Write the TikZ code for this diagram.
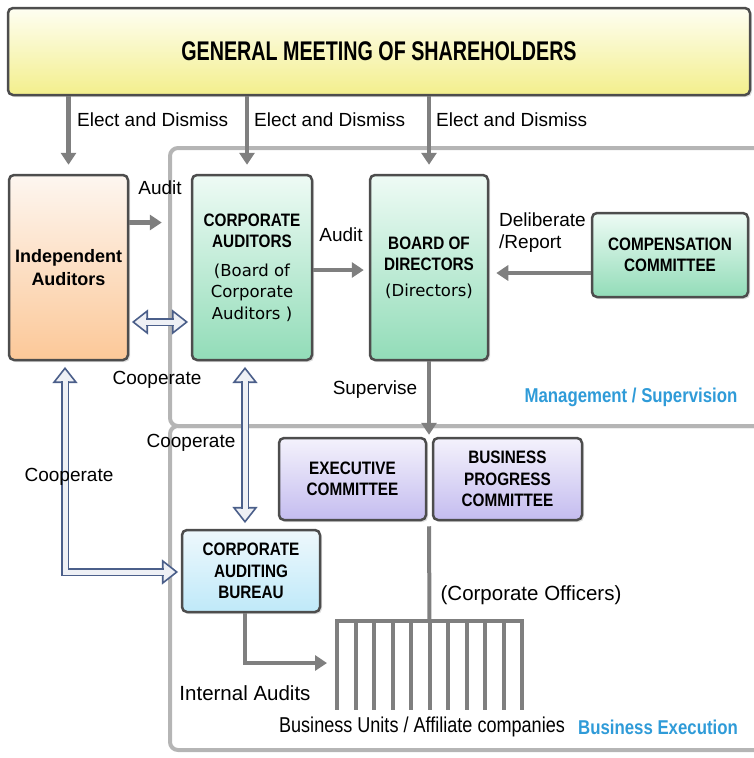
\documentclass[tikz,border=0pt]{standalone}
\usepackage{fontspec}
\setmainfont{Liberation Sans}
\newfontfamily\bxfont[FakeStretch=0.85]{Liberation Sans}
\newfontfamily\ttlfont[FakeStretch=0.73]{Liberation Sans}
\newfontfamily\narrowfont[FakeStretch=0.84]{Liberation Sans}
\newfontfamily\pfont{DejaVu Sans}
\usetikzlibrary{arrows.meta,shadows}

\definecolor{boxline}{HTML}{4D4D4D}
\definecolor{framegray}{HTML}{B5B5B5}
\definecolor{arrowgray}{HTML}{7F7F7F}
\definecolor{coopline}{HTML}{4B5F8A}
\definecolor{coopfill}{HTML}{EEF0F5}
\definecolor{gmstop}{HTML}{FEFEF2}
\definecolor{gmsbot}{HTML}{F3EF8C}
\definecolor{orgtop}{HTML}{FDF6F0}
\definecolor{orgbot}{HTML}{FCC898}
\definecolor{grntop}{HTML}{EEFBF5}
\definecolor{grnbot}{HTML}{92DCB8}
\definecolor{purtop}{HTML}{F4F2FC}
\definecolor{purbot}{HTML}{C4BCEF}
\definecolor{blutop}{HTML}{EEF8FC}
\definecolor{blubot}{HTML}{BFE9F9}
\definecolor{sectblue}{HTML}{2F9BD8}

\newcommand\bxtext{\bxfont\bfseries\fontsize{18}{21.5}\selectfont}
\newcommand\lbltext{\fontsize{19}{22}\selectfont}
\newcommand\pf{\pfont\mdseries\fontsize{16.5}{21.5}\selectfont}

\begin{document}
\begin{tikzpicture}[x=1pt,y=-1pt,
    box/.style={draw=boxline, line width=2.5pt, rounded corners=5pt,
        align=center, inner sep=0pt, font=\bxtext,
        drop shadow={shadow xshift=2pt, shadow yshift=-2pt, opacity=0.25}},
    orgbox/.style={box, top color=orgtop, bottom color=orgbot},
    grnbox/.style={box, top color=grntop, bottom color=grnbot},
    purbox/.style={box, top color=purtop, bottom color=purbot},
    blubox/.style={box, top color=blutop, bottom color=blubot},
    frame/.style={draw=framegray, line width=4pt, rounded corners=8pt},
    flow/.style={draw=arrowgray, line width=4.5pt,
        -{Triangle[length=12pt,width=15pt]}},
    comb/.style={draw=arrowgray, line width=4pt},
    coopshaft/.style={draw=coopline, line width=1.8pt, double=coopfill,
        double distance=5pt},
    coophead/.style={draw=coopline, fill=coopfill, line width=1.6pt,
        line join=miter},
    lbl/.style={font=\lbltext, inner sep=0pt},
    sect/.style={font=\narrowfont\bfseries\fontsize{20}{22}\selectfont,
        text=sectblue, inner sep=0pt}]
\useasboundingbox (0,0) rectangle (753,758);

% frames
\draw[frame] (170,148) rectangle (785,426);
\draw[frame] (170,426) rectangle (785,750);

% boxes
\node[box, top color=gmstop, bottom color=gmsbot, minimum width=742pt,
    minimum height=87pt, font=\ttlfont\bfseries\fontsize{27}{30}\selectfont]
    (gms) at (379,51.5) {GENERAL MEETING OF SHAREHOLDERS};
\node[orgbox, minimum width=119pt, minimum height=185pt,
    font=\bfseries\fontsize{18}{22.5}\selectfont] (indep) at (68.5,267.5)
    {Independent\\Auditors};
\node[grnbox, minimum width=120pt, minimum height=185pt] (corpaud) at (252,267.5)
    {CORPORATE\\AUDITORS\\[7pt]\pf (Board of\\\pf Corporate\\\pf Auditors )};
\node[grnbox, minimum width=118pt, minimum height=185pt] (board) at (429,267.5)
    {BOARD OF\\DIRECTORS\\[4pt]\pf (Directors)};
\node[grnbox, minimum width=156pt, minimum height=84pt] (comp) at (670,255)
    {COMPENSATION\\COMMITTEE};
\node[purbox, minimum width=147pt, minimum height=82pt] (exec) at (352.5,479)
    {EXECUTIVE\\COMMITTEE};
\node[purbox, minimum width=149pt, minimum height=82pt] (bpc) at (507.5,479)
    {BUSINESS\\PROGRESS\\COMMITTEE};
\node[blubox, minimum width=138pt, minimum height=82pt] (cab) at (251,571)
    {CORPORATE\\AUDITING\\BUREAU};

% gray arrows
\draw[flow, shorten >=9pt] (gms.south -| indep.north) -- (indep.north);
\draw[flow, shorten >=9pt] ([xshift=-5pt]gms.south -| corpaud.north)
    -- ([xshift=-5pt]corpaud.north);
\draw[flow, shorten >=9pt] (gms.south -| board.north) -- (board.north);
\draw[flow, shorten >=29pt] ([yshift=45pt]indep.east) -- ([yshift=45pt]corpaud.west);
\draw[flow, shorten >=5pt] ([yshift=-2.5pt]corpaud.east) -- ([yshift=-2.5pt]board.west);
\coordinate (dr) at ([yshift=-18pt]comp.west);
\draw[flow, shorten >=7pt] (dr) -- (dr -| board.east);
\draw[flow, shorten >=2pt] (board.south) -- (board.south |- exec.north);

% officers and business units
\coordinate (comb) at (429.5,621);
\draw[comb] ([yshift=-5pt]board.south |- exec.south) -- (comb);
\draw[comb] (335,621) -- (524,621);
\foreach \i in {0,...,10}
    \draw[comb] (337+\i*18.5,619) -- ++(0,91);
\coordinate (units) at (337,663);
\draw[flow, shorten >=10pt] ([xshift=-6pt]cab.south) |- (units);

% cooperate arrows
\coordinate (ha) at ([xshift=4pt,yshift=-54.5pt]indep.east);
\coordinate (hb) at ([xshift=-4pt,yshift=-54.5pt]corpaud.west);
\coordinate (hc) at ([xshift=-3.5pt,yshift=-7pt]indep.south);
\coordinate (hd) at ([xshift=-4pt,yshift=-1pt]cab.west);
\coordinate (he) at ([xshift=-7pt,yshift=-7pt]corpaud.south);
\coordinate (hf) at ([xshift=-6pt,yshift=7pt]cab.north);
\filldraw[coophead] (ha) -- ++(14,-11) -- ++(0,22) -- cycle;
\filldraw[coophead] (hb) -- ++(-14,-11) -- ++(0,22) -- cycle;
\filldraw[coophead] (hc) -- ++(-11,14) -- ++(22,0) -- cycle;
\filldraw[coophead] (hd) -- ++(-14,-11) -- ++(0,22) -- cycle;
\filldraw[coophead] (he) -- ++(-11,14) -- ++(22,0) -- cycle;
\filldraw[coophead] (hf) -- ++(-11,-14) -- ++(22,0) -- cycle;
\draw[coopshaft] ([xshift=13pt]ha) -- ([xshift=-13pt]hb);
\draw[coopshaft] ([yshift=-13pt]hc) |- ([xshift=-13pt]hd);
\draw[coopshaft] ([yshift=-13pt]he) -- ([yshift=13pt]hf);

% labels
\node[lbl, anchor=west] (ed1) at (77,120) {Elect and Dismiss};
\node[lbl, anchor=west] (ed2) at (254,120) {Elect and Dismiss};
\node[lbl, anchor=west] (ed3) at (436,120) {Elect and Dismiss};
\node[lbl] (aud1) at (160,188) {Audit};
\node[lbl] (aud2) at (341,235) {Audit};
\node[lbl, anchor=west, align=left] (delib) at (499,233) {Deliberate\\/Report};
\node[lbl] (coop1) at (157,380) {Cooperate};
\node[lbl] (coop2) at (191,443) {Cooperate};
\node[lbl] (coop3) at (69,477) {Cooperate};
\node[lbl] (superv) at (375,390) {Supervise};
\node[lbl, font=\fontsize{20.5}{22}\selectfont] (officers) at (531,595)
    {(Corporate Officers)};
\node[lbl, font=\fontsize{20.5}{22}\selectfont] (intaud) at (245,693)
    {Internal Audits};
\node[lbl, font=\narrowfont\fontsize{21.5}{22}\selectfont] (bu) at (422,727)
    {Business Units / Affiliate companies};
\node[sect] (mgmt) at (631,397) {Management / Supervision};
\node[sect] (bexec) at (658,727) {Business Execution};
\end{tikzpicture}
\end{document}
